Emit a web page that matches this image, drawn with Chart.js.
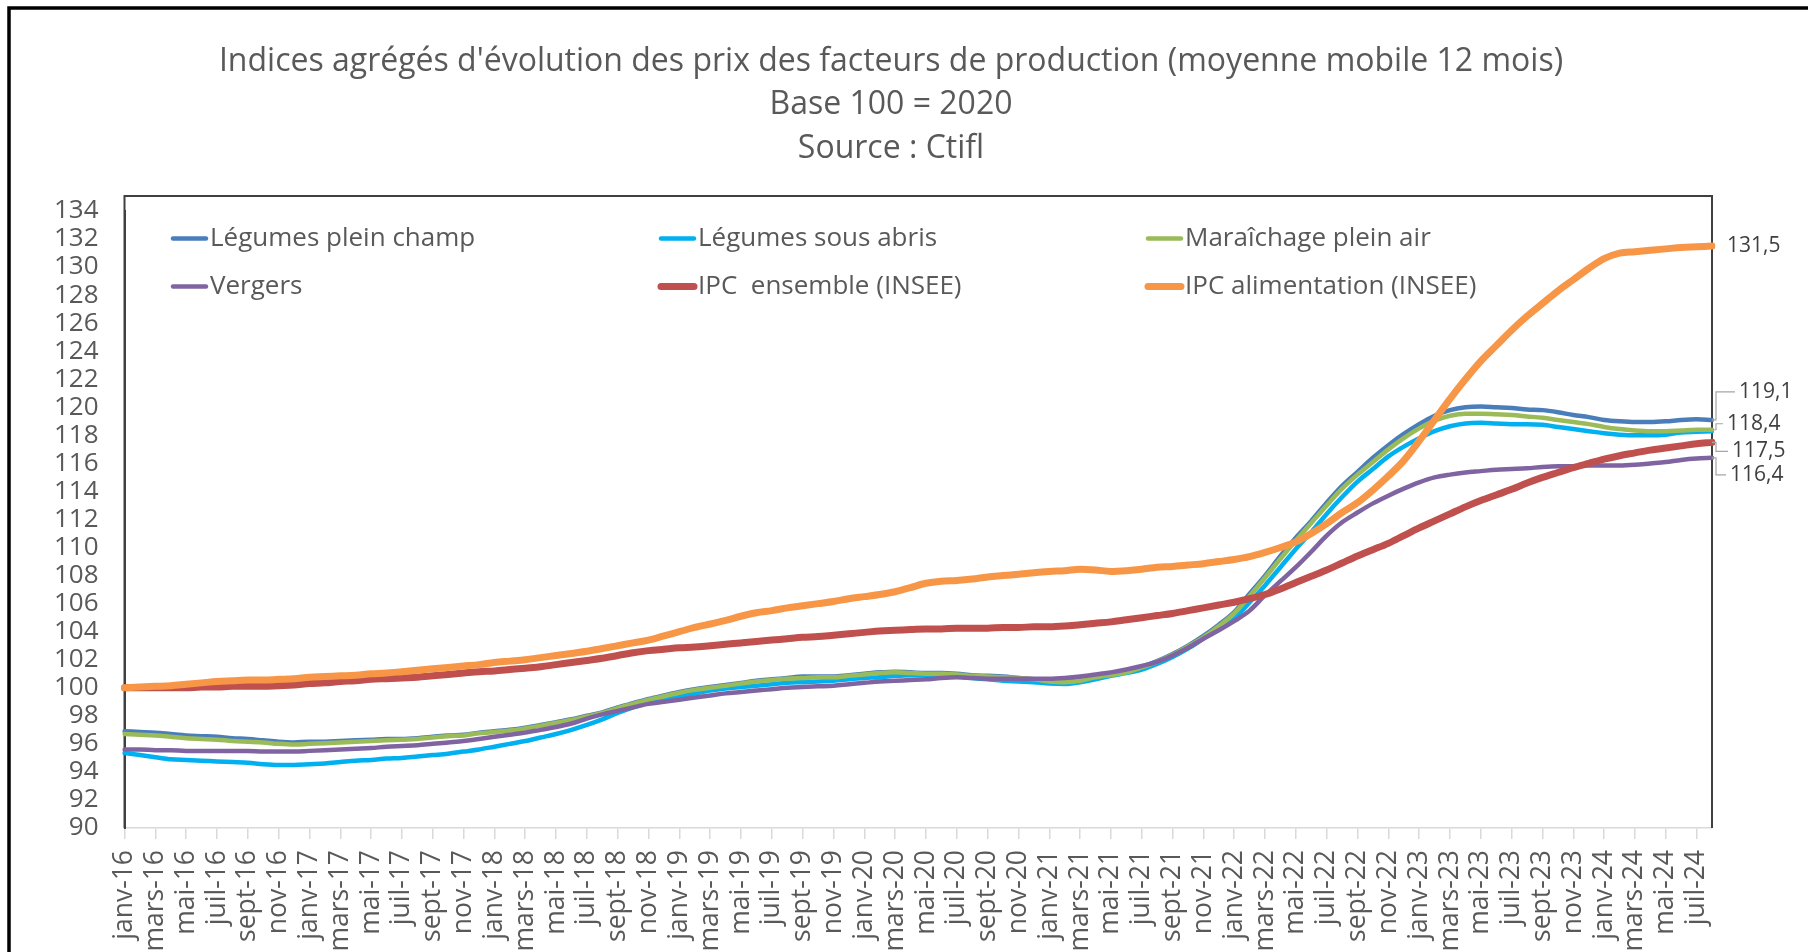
<!DOCTYPE html>
<html>
<head>
<meta charset="utf-8">
<script src="https://cdn.jsdelivr.net/npm/chart.js@4.4.1/dist/chart.umd.min.js"></script>
<style>
html,body{margin:0;padding:0;background:#ffffff;}
canvas{display:block;}
</style>
</head>
<body>
<canvas id="c" width="1808" height="952"></canvas>
<script>
// ---- Categories (monthly, janv-16 .. août-24) ----
const monthNames = ['janv','févr','mars','avr','mai','juin','juil','août','sept','oct','nov','déc'];
const years = ['16','17','18','19','20','21','22','23','24'];
const lastMonthOfLastYear = 'août';
const categories = [];
for (const y of years) {
  for (const m of monthNames) {
    categories.push(m + '-' + y);
    if (y === years[years.length - 1] && m === lastMonthOfLastYear) break;
  }
}

// ---- Series values ----
const legumesPleinChamp = [
  96.9, 96.85, 96.8, 96.7, 96.6, 96.55, 96.5, 96.4, 96.35, 96.25, 96.15, 96.1,
  96.15, 96.15, 96.2, 96.25, 96.3, 96.35, 96.35, 96.4, 96.5, 96.6, 96.65, 96.8,
  96.9, 97.0, 97.15, 97.35, 97.55, 97.75, 98.0, 98.25, 98.6, 98.9, 99.2, 99.45,
  99.7, 99.9, 100.05, 100.2, 100.35, 100.5, 100.6, 100.7, 100.8, 100.8, 100.8, 100.9,
  101.0, 101.1, 101.15, 101.1, 101.05, 101.05, 101.0, 100.9, 100.85, 100.8, 100.7, 100.6,
  100.5, 100.45, 100.55, 100.75, 100.95, 101.2, 101.5, 101.9, 102.4, 103.0, 103.7, 104.5,
  105.4, 106.7, 108.0, 109.4, 110.7, 111.9, 113.2, 114.4, 115.4, 116.4, 117.3, 118.1,
  118.8, 119.4, 119.8, 120.0, 120.05, 120.0, 119.95, 119.85, 119.8, 119.65, 119.45, 119.3,
  119.1, 119.0, 118.95, 118.95, 119.0, 119.1, 119.15, 119.1
];
const legumesSousAbris = [
  95.35, 95.2, 95.05, 94.9, 94.85, 94.8, 94.75, 94.7, 94.65, 94.55, 94.5, 94.5,
  94.55, 94.6, 94.7, 94.8, 94.85, 94.95, 95.0, 95.1, 95.2, 95.3, 95.45, 95.6,
  95.8, 96.0, 96.2, 96.45, 96.7, 97.0, 97.35, 97.75, 98.2, 98.6, 98.95, 99.2,
  99.4, 99.6, 99.8, 99.95, 100.05, 100.15, 100.25, 100.35, 100.4, 100.45, 100.5, 100.6,
  100.7, 100.75, 100.85, 100.9, 100.9, 100.85, 100.8, 100.7, 100.6, 100.5, 100.45, 100.4,
  100.3, 100.27, 100.4, 100.6, 100.85, 101.05, 101.3, 101.7, 102.2, 102.8, 103.5, 104.2,
  104.9, 106.1, 107.3, 108.6, 109.9, 111.1, 112.4, 113.6, 114.7, 115.6, 116.5, 117.2,
  117.8, 118.3, 118.65, 118.85, 118.9, 118.85, 118.8, 118.8, 118.75, 118.6, 118.45, 118.3,
  118.15, 118.05, 118.0, 118.0, 118.05, 118.2, 118.25, 118.3
];
const maraichagePleinAir = [
  96.7, 96.65, 96.6, 96.5, 96.4, 96.35, 96.3, 96.2, 96.15, 96.1, 96.0, 95.95,
  96.0, 96.05, 96.1, 96.15, 96.2, 96.25, 96.3, 96.35, 96.45, 96.55, 96.6, 96.75,
  96.85, 96.95, 97.1, 97.3, 97.5, 97.7, 97.95, 98.2, 98.55, 98.85, 99.15, 99.4,
  99.65, 99.85, 100.0, 100.15, 100.3, 100.45, 100.55, 100.65, 100.7, 100.75, 100.75, 100.85,
  100.95, 101.05, 101.1, 101.05, 101.0, 101.0, 100.95, 100.85, 100.8, 100.75, 100.7, 100.6,
  100.45, 100.4, 100.5, 100.75, 100.9, 101.1, 101.45, 101.85, 102.35, 102.95, 103.6, 104.4,
  105.3, 106.55, 107.85, 109.2, 110.5, 111.75, 113.0, 114.2, 115.2, 116.1, 117.0, 117.8,
  118.5, 119.05, 119.4, 119.55, 119.55, 119.5, 119.45, 119.35, 119.25, 119.1, 118.95, 118.8,
  118.6, 118.45, 118.35, 118.3, 118.3, 118.35, 118.4, 118.4
];
const vergers = [
  95.6, 95.6, 95.55, 95.55, 95.5, 95.5, 95.5, 95.5, 95.5, 95.45, 95.45, 95.45,
  95.5, 95.55, 95.6, 95.65, 95.7, 95.8, 95.85, 95.9, 96.0, 96.1, 96.2, 96.35,
  96.5, 96.65, 96.8, 97.0, 97.2, 97.45, 97.8, 98.1, 98.35, 98.6, 98.85, 99.0,
  99.15, 99.3, 99.45, 99.6, 99.7, 99.8, 99.9, 100.0, 100.05, 100.1, 100.15, 100.25,
  100.35, 100.45, 100.5, 100.55, 100.6, 100.7, 100.75, 100.7, 100.65, 100.65, 100.65, 100.65,
  100.65, 100.7, 100.8, 100.95, 101.1, 101.3, 101.55, 101.85, 102.3, 102.85, 103.5, 104.1,
  104.75, 105.5, 106.6, 107.6, 108.6, 109.7, 110.85, 111.8, 112.5, 113.15, 113.7, 114.2,
  114.65, 115.0, 115.2, 115.35, 115.45, 115.55, 115.6, 115.65, 115.75, 115.8, 115.8, 115.85,
  115.85, 115.85, 115.9, 116.0, 116.1, 116.25, 116.35, 116.4
];
const ipcEnsemble = [
  100.0, 100.0, 100.0, 100.0, 100.0, 100.05, 100.05, 100.1, 100.1, 100.1, 100.15, 100.2,
  100.3, 100.35, 100.45, 100.5, 100.6, 100.65, 100.7, 100.75, 100.85, 100.95, 101.05, 101.15,
  101.2, 101.3, 101.4, 101.5, 101.65, 101.8, 101.95, 102.1, 102.3, 102.5, 102.65, 102.75,
  102.85, 102.9, 103.0, 103.1, 103.2, 103.3, 103.4, 103.5, 103.6, 103.65, 103.75, 103.85,
  103.95, 104.05, 104.1, 104.15, 104.2, 104.2, 104.25, 104.25, 104.25, 104.3, 104.3, 104.35,
  104.35, 104.4, 104.5, 104.6, 104.7, 104.85, 105.0, 105.15, 105.3, 105.5, 105.7, 105.9,
  106.1, 106.35, 106.65, 107.05, 107.5, 107.95, 108.4, 108.9, 109.4, 109.85, 110.3, 110.85,
  111.4, 111.9, 112.4, 112.9, 113.35, 113.75, 114.15, 114.6, 115.0, 115.35, 115.7, 116.0,
  116.3, 116.55, 116.75, 116.95, 117.1, 117.25, 117.4, 117.5
];
const ipcAlimentation = [
  100.0, 100.05, 100.1, 100.15, 100.25, 100.35, 100.45, 100.5, 100.55, 100.55, 100.6, 100.65,
  100.75, 100.8, 100.85, 100.9, 101.0, 101.05, 101.15, 101.25, 101.35, 101.45, 101.55, 101.65,
  101.8, 101.9, 102.0, 102.15, 102.3, 102.45, 102.6, 102.8, 103.0, 103.2, 103.4, 103.7,
  104.0, 104.3, 104.55, 104.8, 105.1, 105.35, 105.5, 105.7, 105.85, 106.0, 106.15, 106.35,
  106.5, 106.65, 106.85, 107.15, 107.45, 107.6, 107.65, 107.75, 107.9, 108.0, 108.1, 108.2,
  108.3, 108.35, 108.45, 108.4, 108.3, 108.35, 108.45, 108.6, 108.65, 108.75, 108.85, 109.0,
  109.15, 109.35, 109.65, 110.0, 110.4, 111.0, 111.7, 112.5, 113.2, 114.1, 115.1, 116.2,
  117.6, 119.1, 120.6, 122.0, 123.3, 124.4, 125.5, 126.5, 127.4, 128.3, 129.1, 129.9,
  130.6, 131.0, 131.1, 131.2, 131.3, 131.4, 131.45, 131.5
];

// ---- Text ----
const titleLines = [
  "Indices agrégés d'évolution des prix des facteurs de production (moyenne mobile 12 mois)",
  'Base 100 = 2020',
  'Source : Ctifl'
];
const seriesLabels = [
  'Légumes plein champ', 'Légumes sous abris', 'Maraîchage plein air',
  'Vergers', 'IPC  ensemble (INSEE)', 'IPC alimentation (INSEE)'
];
const yMin = 90, yMax = 134, yStep = 2;

const FONT = "'Open Sans', 'Noto Sans', sans-serif";
const TXT = '#595959';

const datasets = [
  {label: seriesLabels[0], data: legumesPleinChamp, borderColor: '#4A7EBB', borderWidth: 4.5, order: 5, endLabel: {dx: 27, dy: -28}},
  {label: seriesLabels[1], data: legumesSousAbris, borderColor: '#00B0F0', borderWidth: 4.5, order: 4},
  {label: seriesLabels[2], data: maraichagePleinAir, borderColor: '#9BBB59', borderWidth: 4.5, order: 3, endLabel: {dx: 15, dy: -6}},
  {label: seriesLabels[3], data: vergers, borderColor: '#8064A2', borderWidth: 4.5, order: 2, endLabel: {dx: 18, dy: 17}},
  {label: seriesLabels[4], data: ipcEnsemble, borderColor: '#C0504D', borderWidth: 7, order: 1, endLabel: {dx: 20, dy: 9}},
  {label: seriesLabels[5], data: ipcAlimentation, borderColor: '#F79646', borderWidth: 7, order: 0, endLabel: {dx: 15, dy: 0, noLeader: true}}
];

// legend layout: [column x, row y] for each dataset
const legendSlots = [[171, 238.5], [659, 238.5], [1146, 238.5], [171, 286.5], [659, 286.5], [1146, 286.5]];

const decorPlugin = {
  id: 'decor',
  beforeDraw(chart) {
    const ctx = chart.ctx;
    ctx.save();
    ctx.fillStyle = '#ffffff';
    ctx.fillRect(0, 0, chart.width, chart.height);
    // outer frame (top & left)
    ctx.strokeStyle = '#000000';
    ctx.lineWidth = 3.5;
    ctx.beginPath();
    ctx.moveTo(9, chart.height);
    ctx.lineTo(9, 8);
    ctx.lineTo(chart.width, 8);
    ctx.stroke();
    // title
    ctx.fillStyle = TXT;
    ctx.textAlign = 'center';
    ctx.textBaseline = 'middle';
    ctx.font = '32px ' + FONT;
    const cx = 891;
    ctx.fillText(titleLines[0], cx, 61.5);
    ctx.fillText(titleLines[1], cx, 105);
    ctx.fillText(titleLines[2], cx, 148.5);
    ctx.restore();
  },
  beforeDatasetsDraw(chart) {
    const ctx = chart.ctx;
    const a = chart.chartArea;
    ctx.save();
    ctx.strokeStyle = '#404040';
    ctx.lineWidth = 2;
    ctx.beginPath();
    ctx.moveTo(a.left, a.bottom);
    ctx.lineTo(a.left, a.top - 15);
    ctx.lineTo(a.right, a.top - 15);
    ctx.lineTo(a.right, a.bottom);
    ctx.stroke();
    ctx.restore();
  },
  afterDatasetsDraw(chart) {
    const ctx = chart.ctx;
    const a = chart.chartArea;
    const yScale = chart.scales.y;
    ctx.save();
    // legend
    ctx.font = '26px ' + FONT;
    ctx.textBaseline = 'middle';
    ctx.textAlign = 'left';
    chart.data.datasets.forEach((ds, i) => {
      const [lx, ly] = legendSlots[i];
      ctx.strokeStyle = ds.borderColor;
      ctx.lineWidth = ds.borderWidth;
      ctx.lineCap = 'round';
      ctx.beginPath();
      ctx.moveTo(lx + 2, ly);
      ctx.lineTo(lx + 35, ly);
      ctx.stroke();
      ctx.fillStyle = TXT;
      ctx.fillText(ds.label, lx + 39, ly);
    });
    // end-of-series labels
    ctx.font = '21px ' + FONT;
    ctx.lineCap = 'butt';
    chart.data.datasets.forEach((ds) => {
      if (!ds.endLabel) return;
      const v = ds.data[ds.data.length - 1];
      const yv = yScale.getPixelForValue(v);
      const ly = yv + ds.endLabel.dy;
      const lx = a.right + ds.endLabel.dx;
      if (!ds.endLabel.noLeader) {
        ctx.strokeStyle = '#A6A6A6';
        ctx.lineWidth = 1.2;
        ctx.beginPath();
        ctx.moveTo(a.right, yv);
        ctx.lineTo(a.right + 4, yv);
        ctx.lineTo(a.right + 4, ly);
        ctx.lineTo(lx - 4, ly);
        ctx.stroke();
      }
      ctx.fillStyle = '#404040';
      ctx.fillText(v.toFixed(1).replace('.', ','), lx, ly);
    });
    ctx.restore();
  }
};

new Chart(document.getElementById('c'), {
  type: 'line',
  data: {
    labels: categories,
    datasets: datasets.map(d => Object.assign({
      fill: false, pointRadius: 0, pointHoverRadius: 0, tension: 0.4, cubicInterpolationMode: 'monotone',
      borderCapStyle: 'round', borderJoinStyle: 'round'
    }, d))
  },
  options: {
    responsive: false,
    animation: false,
    devicePixelRatio: 1,
    layout: {padding: {left: 0, top: 211, right: 96, bottom: 0}},
    plugins: {legend: {display: false}, title: {display: false}, tooltip: {enabled: false}},
    events: [],
    scales: {
      x: {
        type: 'category',
        offset: false,
        grid: {
          display: true, drawOnChartArea: false, drawTicks: true, tickLength: 11, lineWidth: 1.5,
          color: (c) => (c.index % 2 === 0 ? '#D9D9D9' : 'rgba(0,0,0,0)')
        },
        border: {display: true, color: '#D9D9D9', width: 1.5},
        ticks: {
          autoSkip: false, maxRotation: 90, minRotation: 90, padding: 11,
          color: TXT, font: {family: FONT, size: 26.5},
          callback: (v, i) => (i % 2 === 0 ? categories[i] : '')
        },
        afterFit: (s) => { s.height = 124; }
      },
      y: {
        min: yMin, max: yMax,
        grid: {display: false, drawTicks: false},
        border: {display: true, color: '#404040', width: 2},
        ticks: {stepSize: yStep, autoSkip: false, padding: 26, color: TXT, font: {family: FONT, size: 26}},
        afterFit: (s) => { s.width = 124.5; }
      }
    }
  },
  plugins: [decorPlugin]
});
</script>
</body>
</html>
